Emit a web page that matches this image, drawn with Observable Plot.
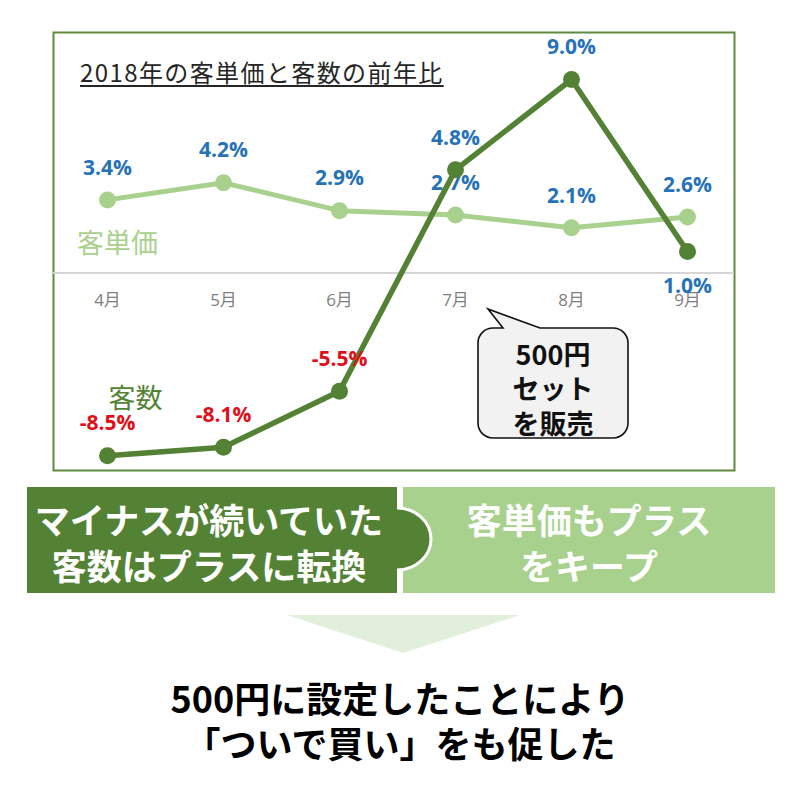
<!DOCTYPE html>
<html><head><meta charset="utf-8">
<script src="https://cdn.jsdelivr.net/npm/d3@7"></script>
<script src="https://cdn.jsdelivr.net/npm/@observablehq/plot@0.6"></script>
<style>
html,body{margin:0;padding:0;background:#fff;}
#wrap{position:relative;width:800px;height:800px;overflow:hidden;font-family:"Noto Sans CJK JP",sans-serif;background:#fff;}
#chart{position:absolute;left:0;top:0;}
#title{position:absolute;left:80px;top:60px;font-size:24px;line-height:1;color:#262626;text-decoration:underline;text-underline-offset:3px;text-decoration-thickness:1.5px;letter-spacing:1.4px;white-space:nowrap;}
#deco{position:absolute;left:0;top:0;}
</style></head><body>
<div id="wrap"><div id="chart"></div><div id="title"></div><svg id="deco" width="800" height="800"></svg></div>
<script>
// ---- data ----
const chartTitle = "2018年の客単価と客数の前年比";
const months = ["4月", "5月", "6月", "7月", "8月", "9月"];
const unitPrice = [3.4, 4.2, 2.9, 2.7, 2.1, 2.6];      // 客単価 前年比(%)
const customers = [-8.5, -8.1, -5.5, 4.8, 9.0, 1.0];   // 客数 前年比(%)
const seriesNames = ["客単価", "客数"];
const calloutLines = ["500円", "セット", "を販売"];
const leftBanner = ["マイナスが続いていた", "客数はプラスに転換"];
const rightBanner = ["客単価もプラス", "をキープ"];
const conclusion = ["500円に設定したことにより", "「ついで買い」をも促した"];

// ---- colors ----
const light = "#a9d18e", dark = "#548235", blue = "#2672b6", red = "#e0101a";

const toRows = (vals, series) => months.map((m, i) => ({month: m, value: vals[i], series, prev: i > 0 ? vals[i - 1] : null}));
const up = toRows(unitPrice, seriesNames[0]);
const cu = toRows(customers, seriesNames[1]);
const fmt = v => v.toFixed(1) + "%";
const numFont = "'Open Sans', 'Noto Sans CJK JP', sans-serif";
const cjkFont = "'Noto Sans CJK JP', sans-serif";
const below = d => d.prev !== null && d.value < d.prev; // falling point -> label under it
const lbl = {x: "month", y: "value", text: d => fmt(d.value), fontSize: 21, fontWeight: "bold", fontFamily: numFont};

const chart = Plot.plot({
  width: 800, height: 480,
  marginTop: 36, marginBottom: 14, marginLeft: 49, marginRight: 55,
  x: {type: "point", domain: months, padding: 0.5, axis: null},
  y: {domain: [-9, 11], axis: null},
  style: {background: "transparent", fontFamily: cjkFont, overflow: "visible"},
  marks: [
    Plot.frame({stroke: "#5f8a3f", strokeWidth: 2, insetLeft: 4, insetRight: 11, insetTop: -4, insetBottom: -4}),
    Plot.ruleY([0], {stroke: "#d6d6d6", strokeWidth: 2, insetLeft: 4, insetRight: 11}),
    Plot.text(months, {x: d => d, y: () => 0, dy: 28, fill: "#7f7f7f", fontSize: 17, fontFamily: numFont}),
    // 客単価
    Plot.line(up, {x: "month", y: "value", stroke: light, strokeWidth: 5}),
    Plot.dot(up, {x: "month", y: "value", r: 8.5, fill: light}),
    Plot.text(up, {...lbl, dy: -32, fill: blue}),
    // 客数
    Plot.line(cu, {x: "month", y: "value", stroke: dark, strokeWidth: 5.5}),
    Plot.dot(cu, {x: "month", y: "value", r: 8.5, fill: dark}),
    Plot.text(cu.filter(d => d.value >= 0 && !below(d)), {...lbl, dy: -32, fill: blue}),
    Plot.text(cu.filter(d => d.value >= 0 && below(d)), {...lbl, dy: 35, fill: blue}),
    Plot.text(cu.filter(d => d.value < 0), {...lbl, dy: -32, fill: red}),
    // series names
    Plot.text([seriesNames[0]], {frameAnchor: "top-left", dx: 68, dy: 197, textAnchor: "middle", fill: light, fontSize: 27, fontFamily: cjkFont}),
    Plot.text([seriesNames[1]], {frameAnchor: "top-left", dx: 86, dy: 352, textAnchor: "middle", fill: dark, fontSize: 27, fontFamily: cjkFont})
  ]
});
document.getElementById("chart").appendChild(chart);
document.getElementById("title").textContent = chartTitle;

// ---- decorations: callout, banners, arrow, conclusion ----
const svg = d3.select("#deco");
svg.append("path")
  .attr("d", "M478,343 A15,15 0 0 1 493,328 L503,328 L488,309 L540,328 L613,328 A15,15 0 0 1 628,343 L628,423 A15,15 0 0 1 613,438 L493,438 A15,15 0 0 1 478,423 Z")
  .attr("fill", "#f2f2f2").attr("stroke", "#111").attr("stroke-width", 1.6);
calloutLines.forEach((t, i) => svg.append("text")
  .attr("x", 553).attr("y", 353 + i * 34.5).attr("text-anchor", "middle").attr("dominant-baseline", "central")
  .attr("font-family", cjkFont).attr("font-size", 27).attr("font-weight", 700).attr("fill", "#111").text(t));

svg.append("rect").attr("x", 27).attr("y", 487).attr("width", 370).attr("height", 106).attr("fill", dark);
svg.append("rect").attr("x", 403).attr("y", 487).attr("width", 372).attr("height", 106).attr("fill", light);
svg.append("path").attr("d", "M397,508 A34,31 0 0 1 397,570 Z").attr("fill", dark);
svg.append("path").attr("d", "M397,508 A34,31 0 0 1 397,570").attr("fill", "none").attr("stroke", "#fff").attr("stroke-width", 3);

leftBanner.forEach((t, i) => svg.append("text")
  .attr("x", 209).attr("y", 518 + i * 46).attr("text-anchor", "middle").attr("dominant-baseline", "central")
  .attr("font-family", cjkFont).attr("font-size", 35).attr("font-weight", 700).attr("fill", "#fff").text(t));
rightBanner.forEach((t, i) => svg.append("text")
  .attr("x", 589).attr("y", 518 + i * 46).attr("text-anchor", "middle").attr("dominant-baseline", "central")
  .attr("font-family", cjkFont).attr("font-size", 35).attr("font-weight", 700).attr("fill", "#fff").text(t));

svg.append("path").attr("d", "M287,615 L520,615 L403,653 Z").attr("fill", "#e2efda");

conclusion.forEach((t, i) => svg.append("text")
  .attr("x", 400).attr("y", 697 + i * 45).attr("text-anchor", "middle").attr("dominant-baseline", "central")
  .attr("font-family", cjkFont).attr("font-size", 36).attr("font-weight", 700).attr("fill", "#000").text(t));
</script>
</body></html>
